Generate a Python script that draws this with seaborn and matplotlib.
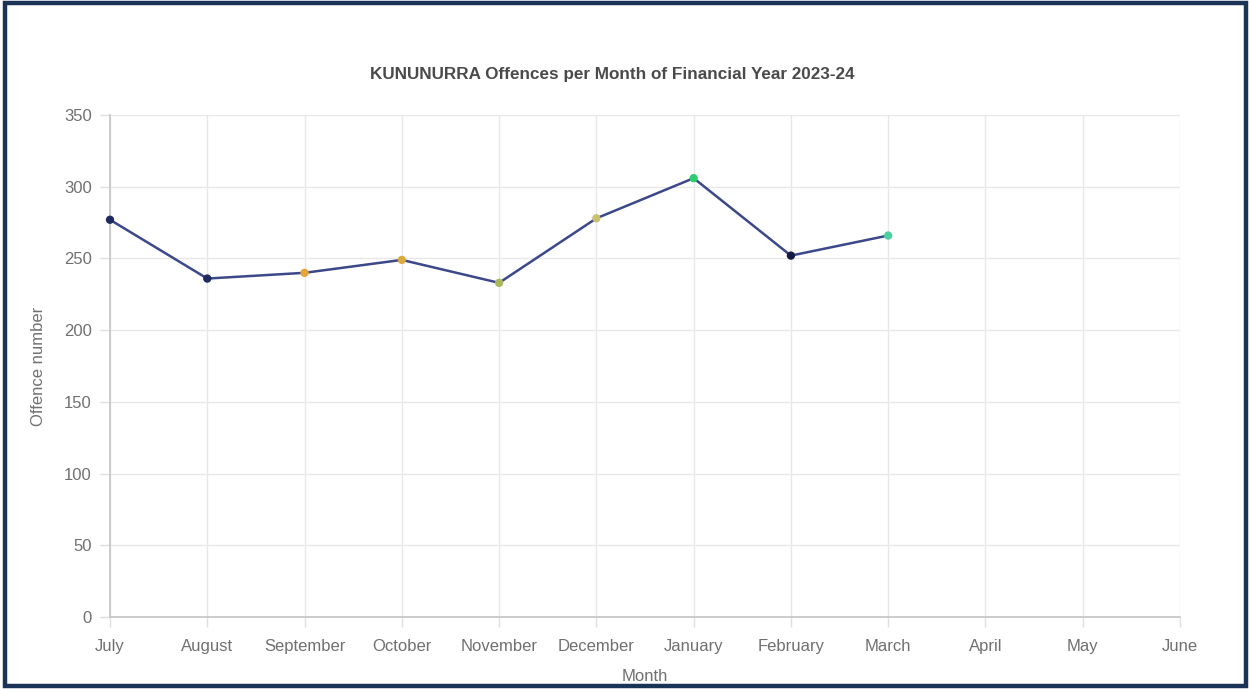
import pandas as pd
import seaborn as sns
import matplotlib.pyplot as plt
from matplotlib.patches import Rectangle

months = ['July', 'August', 'September', 'October', 'November', 'December',
          'January', 'February', 'March', 'April', 'May', 'June']
offences = [277, 236, 240, 249, 233, 278, 306, 252, 266]
point_colors = ['#1f2a60', '#1f2a60', '#e8a33a', '#dcaa3c', '#a9b85a',
                '#c8c070', '#2ecc71', '#151a45', '#4dd0a0']

sns.set_theme(style='white')
plt.rcParams['font.family'] = ['Liberation Sans', 'DejaVu Sans']

df = pd.DataFrame({'idx': range(len(offences)), 'month': months[:len(offences)],
                   'offences': offences})

fig = plt.figure(figsize=(12.5, 6.89), dpi=100)
ax = fig.add_axes([0.088, 0.1045, 0.856, 0.7285])

sns.lineplot(data=df, x='idx', y='offences', ax=ax, color='#3b4889',
             linewidth=1.8, zorder=3)
sns.scatterplot(data=df, x='idx', y='offences', hue='month',
                palette=dict(zip(df['month'], point_colors)), legend=False,
                s=36, edgecolor='none', ax=ax, zorder=4, clip_on=False)

ax.set_xlim(0, len(months) - 1)
ax.set_ylim(0, 350)
ax.set_xticks(range(len(months)))
ax.set_xticklabels(months)
ax.set_yticks(range(0, 351, 50))

ax.grid(True, color='#e8e8e8', linewidth=1)
for side in ['top', 'right']:
    ax.spines[side].set_visible(False)
for side in ['left', 'bottom']:
    ax.spines[side].set_color('#c4c4c4')
    ax.spines[side].set_linewidth(1.2)

ax.tick_params(axis='both', colors='#e0e0e0', labelcolor='#707070',
               labelsize=12, length=7, width=1, pad=6, left=True, bottom=True)
ax.tick_params(axis='x', pad=9)

ax.set_xlabel('Month', fontsize=12, color='#707070', labelpad=11)
ax.set_ylabel('Offence number', fontsize=12, color='#707070', labelpad=13)
fig.text(0.49, 1 - 75 / 689, 'KUNUNURRA Offences per Month of Financial Year 2023-24',
         fontsize=12.3, fontweight='bold', color='#4a4a4a', ha='center', va='center')

fig.patches.append(Rectangle((0.0036, 0.004), 0.9928, 0.992, transform=fig.transFigure,
                             fill=False, edgecolor='#1c3358', linewidth=3.2))

fig.savefig('out.png', dpi=100)
